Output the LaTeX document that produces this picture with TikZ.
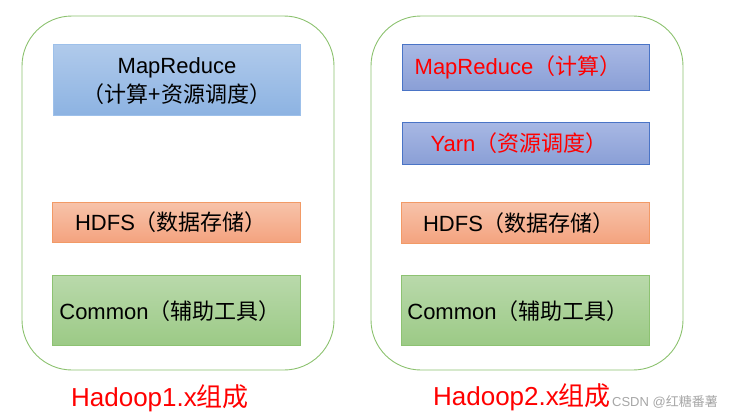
\documentclass[tikz,border=0pt]{standalone}
\usepackage{fontspec}
\setmainfont{Liberation Sans}
\newfontfamily\cjk{Noto Sans CJK SC}
\definecolor{cgreen}{HTML}{8CC26F}
\definecolor{bluetopA}{HTML}{B0CAEB}
\definecolor{bluebotA}{HTML}{8DB3E2}
\definecolor{blueedgeA}{HTML}{9DC0EA}
\definecolor{bluetopB}{HTML}{A8B8E4}
\definecolor{bluebotB}{HTML}{8A9FD6}
\definecolor{blueedgeB}{HTML}{4A74C6}
\definecolor{orangetop}{HTML}{F7C3AA}
\definecolor{orangebot}{HTML}{F4A37F}
\definecolor{orangeedge}{HTML}{F29A66}
\definecolor{greentop}{HTML}{B9D9AB}
\definecolor{greenbot}{HTML}{9CCA86}
\definecolor{greenedge}{HTML}{8DC272}
\definecolor{redtxt}{HTML}{FF0000}
\begin{document}
\begin{tikzpicture}[x=1pt,y=-1pt,
  container/.style={draw=cgreen, line width=0.9pt, rounded corners=50pt, minimum width=312pt, minimum height=354pt, inner sep=0pt},
  layer/.style={line width=1pt, inner sep=0pt},
  bluea/.style={layer, draw=blueedgeA, top color=bluetopA, bottom color=bluebotA},
  blueb/.style={layer, draw=blueedgeB, top color=bluetopB, bottom color=bluebotB},
  orangebox/.style={layer, draw=orangeedge, top color=orangetop, bottom color=orangebot},
  greenbox/.style={layer, draw=greenedge, top color=greentop, bottom color=greenbot},
  txt/.style={inner sep=0pt, font=\fontsize{22}{29}\selectfont},
  captxt/.style={inner sep=0pt, text=redtxt, font=\fontsize{26}{30}\selectfont}]
\useasboundingbox (0,0) rectangle (731,420);
% containers
\node[container] (c1) at (178,193) {};
\node[container] (c2) at (527,193) {};
% left stack
\node[bluea, minimum width=247pt, minimum height=70pt] (mr1) at (176.5,80) {};
\node[orangebox, minimum width=248pt, minimum height=40pt] (hd1) at (176,222) {};
\node[greenbox, minimum width=248pt, minimum height=70pt] (cm1) at (176,310) {};
% right stack
\node[blueb, minimum width=247pt, minimum height=45pt] (mr2) at (525.5,67.5) {};
\node[blueb, minimum width=247pt, minimum height=42pt] (yn2) at (525.5,143) {};
\node[orangebox, minimum width=248pt, minimum height=41pt] (hd2) at (525,222.5) {};
\node[greenbox, minimum width=248pt, minimum height=70pt] (cm2) at (525,310) {};
% texts left
\node[txt, align=center] (tmr1) at (177,81) {MapReduce\\{\cjk （计算+资源调度）}};
\node[txt] (thd1) at (171,222) {HDFS{\cjk （数据存储）}};
\node[txt] (tcm1) at (170,311) {Common{\cjk （辅助工具）}};
% texts right
\node[txt, text=redtxt] (tmr2) at (518,67) {MapReduce{\cjk （计算）}};
\node[txt, text=redtxt] (tyn2) at (519,143) {Yarn{\cjk （资源调度）}};
\node[txt] (thd2) at (519,223) {HDFS{\cjk （数据存储）}};
\node[txt] (tcm2) at (518,311) {Common{\cjk （辅助工具）}};
% captions
\node[captxt] (l1) at (160,398) {Hadoop1.x{\cjk 组成}};
\node[captxt] (l2) at (522,397) {Hadoop2.x{\cjk 组成}};
% watermark
\node[inner sep=0pt, anchor=east, text=black!35, font=\fontsize{13}{16}\selectfont] (wm) at (718,402) {CSDN @{\cjk 红糖番薯}};
\end{tikzpicture}
\end{document}
